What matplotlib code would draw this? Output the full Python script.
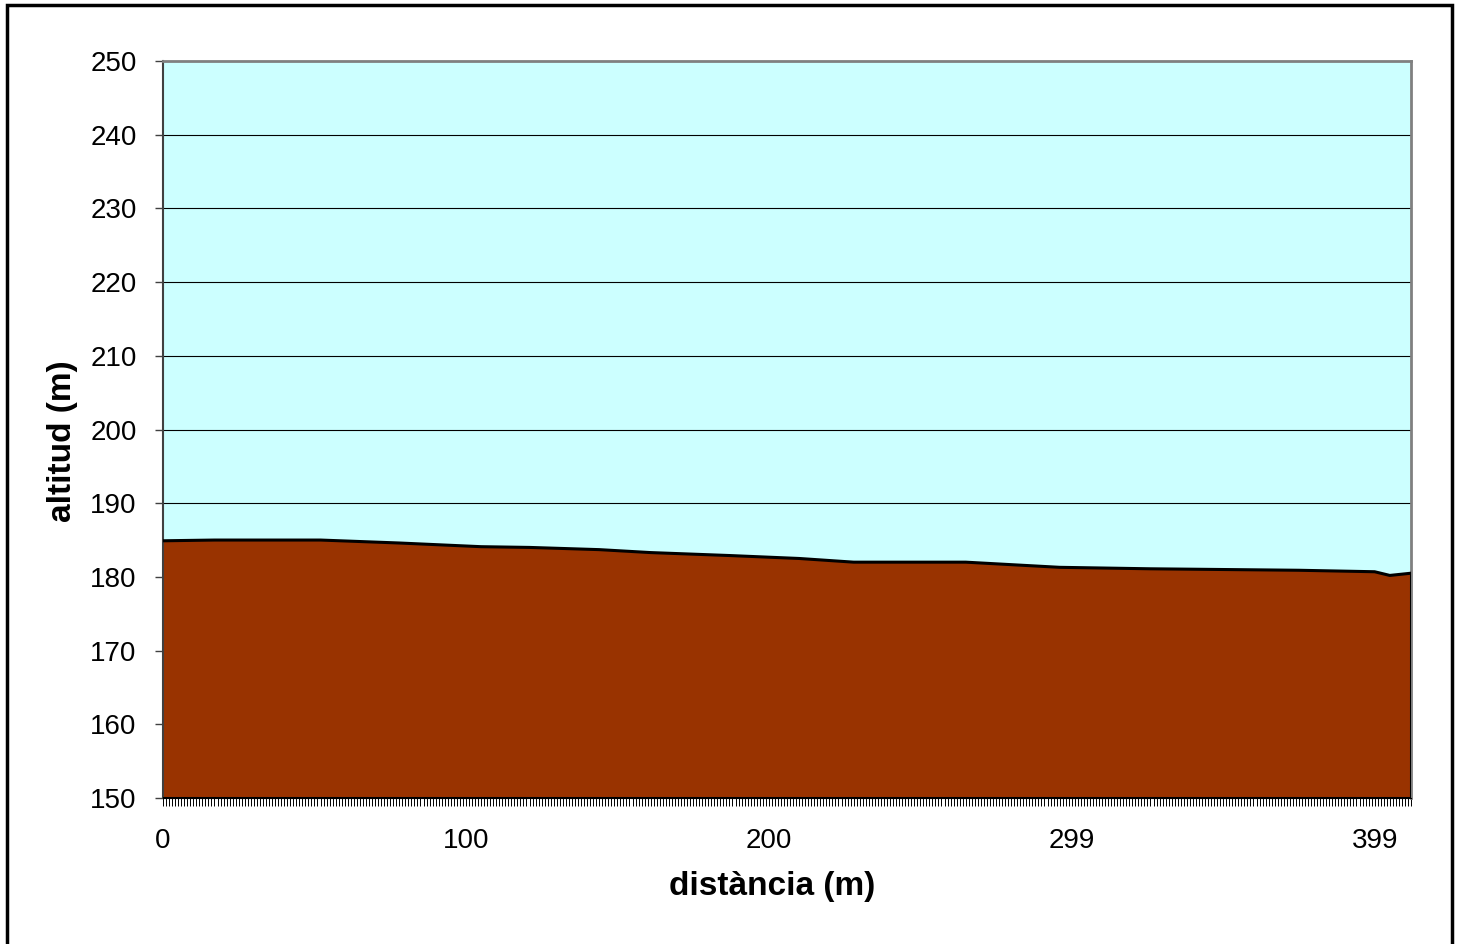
import matplotlib
matplotlib.use("Agg")
import matplotlib.pyplot as plt
from matplotlib.patches import Rectangle
from matplotlib.ticker import MultipleLocator

plt.rcParams['font.family'] = ['Liberation Sans', 'DejaVu Sans']

# profile vertices: category index along the track and altitude (m)
idx = [0, 17, 52, 78, 105, 121, 144, 161, 187, 210, 228, 265, 296, 326, 375, 400, 405, 412]
alt = [184.9, 185.0, 185.0, 184.6, 184.1, 184.0, 183.7, 183.3, 182.9, 182.5,
       182.0, 182.0, 181.3, 181.1, 180.9, 180.7, 180.2, 180.5]

tick_pos = [0, 100, 200, 300, 400]
tick_lab = ['0', '100', '200', '299', '399']
yticks = list(range(150, 251, 10))

W, H = 1457, 944
L, R, T, B = 163, 1411, 61, 798
fig = plt.figure(figsize=(W / 100, H / 100), dpi=100)
ax = fig.add_axes([L / W, 1 - B / H, (R - L) / W, (B - T) / H])

ax.set_facecolor('#CCFFFF')
for y in yticks[1:-1]:
    ax.axhline(y, color='black', lw=0.8, zorder=1)

ax.fill_between(idx, alt, 150, color='#993300', zorder=2)
ax.plot(idx, alt, color='black', lw=2.2, zorder=3)
ax.plot([idx[-1], idx[-1]], [150, alt[-1]], color='black', lw=2.2, zorder=3)
ax.plot([0, idx[-1]], [150, 150], color='black', lw=2.2, zorder=3)

ax.set_xlim(0, idx[-1])
ax.set_ylim(150, 250)
ax.set_yticks(yticks)
ax.set_xticks(tick_pos)
ax.set_xticklabels(tick_lab)
ax.xaxis.set_minor_locator(MultipleLocator(1))
ax.tick_params(axis='x', which='both', direction='out', length=6, width=0.7, color='black', pad=15.5, labelsize=20)
ax.tick_params(axis='y', direction='out', length=6, width=1, color='#404040', pad=13, labelsize=20)

for s in ['top', 'right']:
    ax.spines[s].set_color('#808080')
    ax.spines[s].set_linewidth(2)
ax.spines['left'].set_color('#404040')
ax.spines['left'].set_linewidth(1.5)
ax.spines['bottom'].set_color('black')

ax.set_ylabel('altitud (m)', fontsize=24, fontweight='bold', va='center')
ax.set_xlabel('distància (m)', fontsize=24, fontweight='bold', va='center')
ax.yaxis.set_label_coords((63 - L) / (R - L), (B - 441) / (B - T))
ax.xaxis.set_label_coords((772 - L) / (R - L), (B - 886) / (B - T))

fig.patches.append(Rectangle((7 / W, -0.01), (1452 - 7) / W, 1.01 - 5 / H,
                             transform=fig.transFigure, fill=False, edgecolor='black', lw=2.5))

fig.savefig('out.png', dpi=100)
